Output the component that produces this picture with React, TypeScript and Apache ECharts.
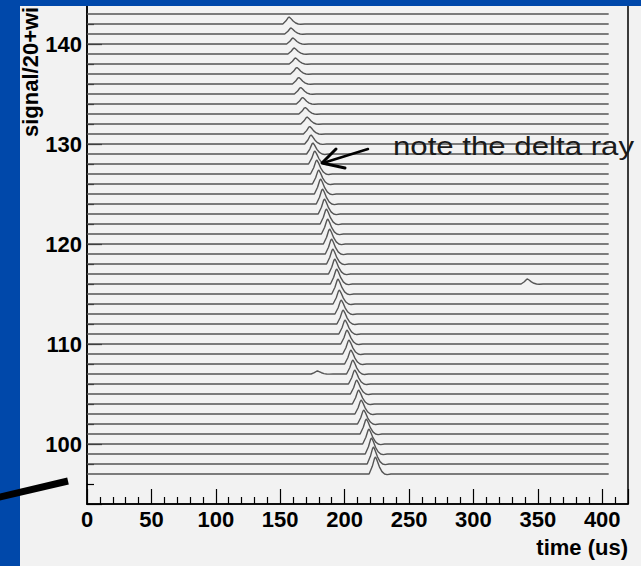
import React, { useEffect, useRef } from "react";
import * as echarts from "echarts";

// wire numbers (trace baselines), bottom to top
const WIRES = [
  97, 98, 99, 100, 101, 102, 103, 104, 105, 106, 107, 108, 109, 110, 111, 112,
  113, 114, 115, 116, 117, 118, 119, 120, 121, 122, 123, 124, 125, 126, 127, 128,
  129, 130, 131, 132, 133, 134, 135, 136, 137, 138, 139, 140, 141, 142, 143, 144,
];
// time of the main pulse on each wire (us); null = no pulse
const PEAK_TIME: (number | null)[] = [
  224, 222.5, 221, 219, 217, 215, 213, 211, 209.5, 208, 206.5, 205, 203.5, 202, 200.5, 199,
  197.5, 196, 195, 194, 192.5, 191, 190, 188.5, 187, 186, 184.5, 183, 181.5, 180, 178.5, 177,
  175.5, 174, 173, 171, 169.5, 167.5, 166, 164.5, 163, 162, 161, 160, 158.5, 157, null, null,
];
// pulse height on each wire (signal/20 units)
const PEAK_HEIGHT: (number | null)[] = [
  1.7, 1.7, 1.6, 1.5, 1.5, 1.4, 1.4, 1.4, 1.4, 1.4, 1.4, 1.4, 1.4, 1.4, 1.4, 1.4,
  1.4, 1.4, 1.5, 1.5, 1.5, 1.5, 1.5, 1.5, 1.5, 1.5, 1.5, 1.5, 1.5, 1.4, 1.4, 1.3,
  1.1, 0.9, 0.75, 0.7, 0.65, 0.65, 0.65, 0.65, 0.65, 0.6, 0.6, 0.6, 0.6, 0.7, null, null,
];
// pulse outline: [time offset (us), fraction of height]
const PULSE_SHAPE: [number, number][] = [
  [-5, 0], [-2.5, 0.45], [-0.8, 0.92], [0, 1], [1.2, 0.8], [3, 0.42], [5, 0.14], [7, 0], [9, -0.04], [12, 0],
];
// extra small pulses: the delta ray and a small side pulse
const EXTRA_WIRE = [116, 107];
const EXTRA_TIME = [342, 179];
const EXTRA_HEIGHT = [0.5, 0.3];

const TRACE_START = 0;
const TRACE_END = 405;

const X_TICKS_INTERVAL = 50;

const BLUE = "#0048aa";
const FONT = "'Liberation Sans', Arial, Helvetica, sans-serif";

function buildTrace(i: number): [number, number][] {
  const w = WIRES[i];
  const pts: [number, number][] = [[TRACE_START, w], [TRACE_END, w]];
  const tp = PEAK_TIME[i];
  const h = PEAK_HEIGHT[i];
  if (tp != null && h != null) {
    for (const [dt, f] of PULSE_SHAPE) pts.push([tp + dt, w + h * f]);
  }
  EXTRA_WIRE.forEach((ew, k) => {
    if (ew === w) {
      for (const [dt, f] of PULSE_SHAPE) pts.push([EXTRA_TIME[k] + dt, w + EXTRA_HEIGHT[k] * f]);
    }
  });
  pts.sort((a, b) => a[0] - b[0]);
  return pts;
}

export default function App() {
  const ref = useRef<HTMLDivElement>(null);
  useEffect(() => {
    const chart = echarts.init(ref.current!, null, { renderer: "svg" });
    const series = WIRES.map((w, i) => ({
      type: "line",
      name: "wire " + w,
      data: buildTrace(i),
      showSymbol: false,
      symbol: "none",
      lineStyle: { color: "#555", width: 1.4 },
      silent: true,
    }));
    const option: any = {
      animation: false,
      backgroundColor: "transparent",
      grid: {
        left: 87,
        right: 13,
        top: 0,
        bottom: 62,
        show: true,
        borderColor: "#000",
        borderWidth: 1.5,
        backgroundColor: "transparent",
      },
      xAxis: {
        type: "value",
        min: 0,
        max: 420,
        interval: X_TICKS_INTERVAL,
        splitLine: { show: false },
        axisLine: { show: true, onZero: false, lineStyle: { color: "#000", width: 1.5 } },
        axisTick: { show: true, inside: true, length: 15, lineStyle: { color: "#000", width: 1.2 } },
        minorTick: { show: true, splitNumber: 5, length: 7, lineStyle: { color: "#000", width: 1.2 } },
        axisLabel: {
          show: true,
          margin: 4,
          showMaxLabel: false,
          color: "#000",
          fontFamily: FONT,
          fontWeight: "bold",
          fontSize: 22,
          formatter: (v: number) => (v % 50 === 0 ? String(v) : ""),
        },
      },
      yAxis: {
        type: "value",
        min: 94,
        max: 144.4,
        splitNumber: 5,
        splitLine: { show: false },
        axisLine: { show: true, onZero: false, lineStyle: { color: "#000", width: 1.5 } },
        axisTick: { show: true, inside: true, length: 15, lineStyle: { color: "#000", width: 1.2 } },
        minorTick: { show: true, splitNumber: 5, length: 7, lineStyle: { color: "#000", width: 1.2 } },
        axisLabel: {
          show: true,
          margin: 5,
          showMinLabel: false,
          showMaxLabel: false,
          color: "#000",
          fontFamily: FONT,
          fontWeight: "bold",
          fontSize: 22,
          formatter: (v: number) => (v % 10 === 0 ? String(v) : ""),
        },
      },
      series,
      graphic: [
        {
          type: "text",
          x: 30,
          y: 137,
          rotation: Math.PI / 2,
          z: 50,
          style: {
            text: "signal/20+wi",
            fill: "#000",
            font: `bold 22px ${FONT}`,
            align: "left",
            verticalAlign: "middle",
          },
        },
        {
          type: "text",
          x: 628,
          y: 547,
          z: 50,
          style: {
            text: "time (us)",
            fill: "#000",
            font: `bold 22px ${FONT}`,
            align: "right",
            verticalAlign: "middle",
          },
        },
        {
          type: "text",
          x: 393,
          y: 146,
          scaleX: 1.2,
          z: 60,
          style: {
            text: "note the delta ray",
            fill: "#1a1a1a",
            font: `26px ${FONT}`,
            align: "left",
            verticalAlign: "middle",
          },
        },
        {
          type: "line",
          z: 60,
          shape: { x1: 368, y1: 149, x2: 323, y2: 163 },
          style: { stroke: "#000", lineWidth: 2.5, lineCap: "round" },
        },
        {
          type: "polyline",
          z: 60,
          shape: { points: [[336, 149], [322, 163], [345, 168]] },
          style: { stroke: "#000", lineWidth: 3, lineCap: "round", lineJoin: "round", fill: "none" },
        },
        {
          type: "rect",
          z: 100,
          shape: { x: 0, y: 0, width: 641, height: 6 },
          style: { fill: BLUE },
        },
        {
          type: "line",
          z: 100,
          shape: { x1: -2, y1: 497.5, x2: 68, y2: 481 },
          style: { stroke: "#000", lineWidth: 7 },
        },
      ],
    };
    chart.setOption(option);
    return () => chart.dispose();
  }, []);
  return (
    <div
      style={{
        position: "fixed",
        left: 0,
        top: 0,
        width: 641,
        height: 566,
        background: BLUE,
        overflow: "hidden",
      }}
    >
      <div
        style={{
          position: "absolute",
          left: 20,
          top: 6,
          width: 621,
          height: 560,
          background: "#f2f2f2",
        }}
      />
      <div ref={ref} style={{ position: "absolute", left: 0, top: 0, width: 641, height: 566 }} />
    </div>
  );
}
